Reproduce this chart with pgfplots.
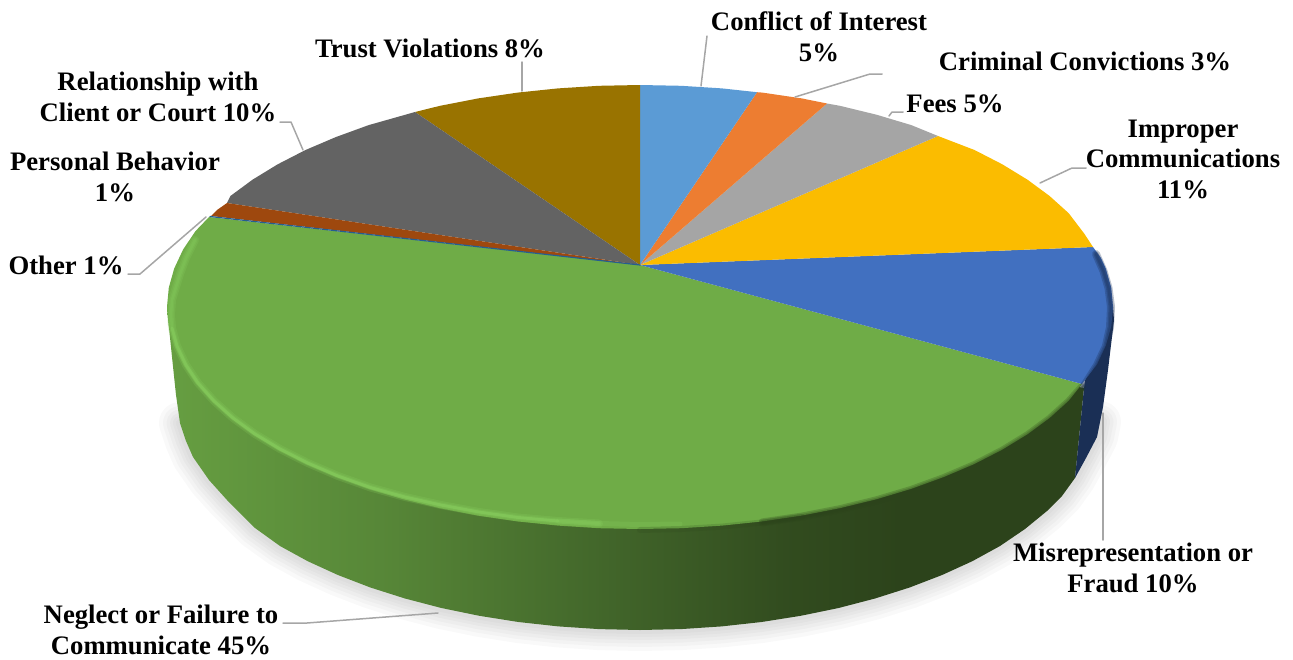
\documentclass[border=0pt]{standalone}
\usepackage{fontspec}
\setmainfont{Liberation Serif}
\usepackage{pgfplots}
\pgfplotsset{compat=1.18}
\usepackage{pgfplotstable}
\definecolor{cConf}{HTML}{5B9BD5}
\definecolor{cCrim}{HTML}{ED7D31}
\definecolor{cFees}{HTML}{A5A5A5}
\definecolor{cImpr}{HTML}{FBBC00}
\definecolor{cMisr}{HTML}{4170C0}
\definecolor{cNegl}{HTML}{6FAC47}
\definecolor{cOthr}{HTML}{255E91}
\definecolor{cPers}{HTML}{9E480E}
\definecolor{cRela}{HTML}{636363}
\definecolor{cTrus}{HTML}{997300}
\definecolor{cNavy}{HTML}{1A2F55}
\definecolor{cDark}{HTML}{2C431B}
\definecolor{cHigh}{HTML}{8AD060}
\definecolor{cLead}{HTML}{A6A6A6}
\pgfdeclarehorizontalshading{greenside}{100bp}{
  color(0bp)=(cNegl!90!white);
  color(25bp)=(cNegl!92!black);
  color(37bp)=(cNegl!78!black);
  color(51bp)=(cNegl!56!black);
  color(59bp)=(cDark!92!cNegl);
  color(65bp)=(cDark);
  color(100bp)=(cDark)}
\pgfplotstableread{
x y
180 423
186 441
193 457
209 480
227 500
255 528
280 546
307.7 561.2
337.9 575
370.4 587.5
405 598.5
441.4 608
479.3 615.8
518.4 622
558.4 626.4
599 629.1
640 630
681 629.1
721.6 626.4
761.6 622
800.7 615.8
838.6 608
875 598.5
909.6 587.5
942.1 575
972.3 561.2
1000 546
1025 529
1047 511
1062 496
1075 478
1086 458
1097 437
1100 422
}\outline
\pgfplotstableread{
x y
195 240
186 258
180 274
172 300
171 315
172 328
177 346
186 365
198 383
214 401
233 418
255 434
280 449
307.8 463
338 476
370.5 487.5
405 497
441 505
479 512
518 517.5
558 521
599 523.5
}\highrim
\pgfplotstableread{
x y
172 328
177 346
186 365
198 383
214 401
233 418
255 434
280 449
307.8 463
338 476
370.5 487.5
405 497
441 505
479 512
518 517.5
558 521
}\highcore
\pgfplotstableread{
x y
558 521
599 523.5
640 524.5
680 524
}\highfade
\pgfplotstableread{
x y
640 530
681.2 529
722.1 526.6
762.4 522.4
801.8 516.6
}\darkfade
\pgfplotstableread{
x y
762.4 522.4
801.8 516.6
839.9 509.2
876.5 500.3
911.3 489.9
944 478
974.5 465
1002.3 450.7
1027.5 435.3
1049.6 419
1068.7 401.8
1082 387
}\darkrim
\pgfplotstableread{
x y
1084 386
1096.9 365.5
1105.8 346.5
1110 327.4
1111 307
1108.5 288
1103.5 271
1096 254
}\navyrim
\begin{document}
\begin{tikzpicture}
\begin{axis}[
  scale only axis, width=1293pt, height=659pt,
  xmin=0, xmax=1293, ymin=0, ymax=659, y dir=reverse,
  hide axis, clip=false,
  every axis plot/.append style={line join=round, line cap=round},
  ]
% page extent
\addplot[no markers, draw=none, forget plot] coordinates {(0,0)(1293,0)(1293,659)(0,659)(0,0)};
% shadow
\pgfplotsinvokeforeach{42,34,27,20,14,8}{
  \addplot[no markers, draw=black, opacity=0.024, line width=#1pt] table {\outline};
}
% side of green slice
\addplot[no markers, draw=none, shading=greenside] coordinates {
(167,307)(168,318)(172,357)(176,395)(180,423)(186,441)(193,457)(209,480)(227,500)(255,528)(280,546)(307.7,561.2)(337.9,575)(370.4,587.5)(405,598.5)(441.4,608)(479.3,615.8)(518.4,622)(558.4,626.4)(599,629.1)(640,630)(681,629.1)(721.6,626.4)(761.6,622)(800.7,615.8)(838.6,608)(875,598.5)(909.6,587.5)(942.1,575)(972.3,561.2)(1000,546)(1025,529)(1047,511)(1062,496)(1075,478)(1084,388)(640,300)};
% side of blue slice
\addplot[no markers, draw=none, fill=cNavy] coordinates {
(1084,388)(1075,478)(1086,458)(1097,437)(1103,407)(1108,370)(1114,320)(1113,307)(1090,350)};
% top faces
\addplot[no markers, draw=none, fill=cNegl] coordinates {
(640,265)(1082,384)(1068.7,400.8)(1049.6,418)(1027.5,434.3)(1002.3,449.7)(974.5,464)(944,477)(911.3,488.9)(876.5,499.3)(839.9,508.2)(801.8,515.6)(762.4,521.4)(722.1,525.6)(681.2,528.2)(640,529)(598.8,528.2)(557.9,525.6)(517.6,521.4)(478.2,515.6)(440.1,508.2)(403.5,499.3)(368.7,488.9)(336,477)(305.5,464)(277.7,449.7)(252.5,434.3)(230.4,418)(211.3,400.8)(195.5,382.9)(183.1,364.5)(174.2,345.6)(168.8,326.3)(167,307)(168.8,287.6)(174.2,268.5)(183.1,249.5)(195.5,231.1)(209,217)};
\addplot[no markers, draw=none, fill=cMisr] coordinates {
(640,265)(1093,247)(1101,258)(1105.8,268.5)(1111.2,287.6)(1113,307)(1111.2,326.4)(1105.8,345.5)(1096.9,364.5)(1082,384)};
\addplot[no markers, draw=none, fill=cImpr] coordinates {
(640,265)(938,136)(974.5,150)(1002.3,164.3)(1027.5,179.7)(1049.6,196)(1068.7,213.2)(1084.5,234)(1093,247)};
\addplot[no markers, draw=none, fill=cFees] coordinates {
(640,265)(827,103.5)(839.9,105.8)(876.5,114.7)(911.3,125.1)(938,136)};
\addplot[no markers, draw=none, fill=cCrim] coordinates {
(640,265)(757,92.2)(762.4,92.6)(801.8,98.4)(827,103.5)};
\addplot[no markers, draw=none, fill=cConf] coordinates {
(640,265)(640,85)(681.2,85.8)(722.1,88.4)(757,92.2)};
\addplot[no markers, draw=none, fill=cTrus] coordinates {
(640,265)(415,112)(440.1,105.8)(478.2,98.4)(517.6,92.6)(557.9,88.4)(598.8,85.8)(640,85)};
\addplot[no markers, draw=none, fill=cRela] coordinates {
(640,265)(227,203)(230.4,196)(252.5,179.7)(277.7,164.3)(305.5,150)(336,137)(368.7,125.1)(415,112)};
\addplot[no markers, draw=none, fill=cPers] coordinates {
(640,265)(211,216)(217,210)(227,203)};
\addplot[no markers, draw=cOthr, line width=1.2pt] coordinates {(640,265)(210,216.5)};
% bevel
\addplot[no markers, draw=cHigh, opacity=0.2, line width=5pt] table {\highfade};
\addplot[no markers, draw=cDark, opacity=0.18, line width=6pt] table {\darkfade};
\pgfplotsinvokeforeach{8,5,2.5}{
  \addplot[no markers, draw=cHigh, opacity=0.22, line width=#1pt] table {\highrim};
  \addplot[no markers, draw=cDark, opacity=0.25, line width=#1pt] table {\darkrim};
  \addplot[no markers, draw=cNavy, opacity=0.3, line width=#1pt] table {\navyrim};
}
\addplot[no markers, draw=cHigh, opacity=0.4, line width=3pt] table {\highcore};
% leaders
\addplot[no markers, draw=cLead, line width=1.5pt] coordinates {(701,86)(707,36)};
\addplot[no markers, draw=cLead, line width=1.5pt] coordinates {(795,97)(870,74)(882,74)};
\addplot[no markers, draw=cLead, line width=1.5pt] coordinates {(889,116)(892,112)(903,112)};
\addplot[no markers, draw=cLead, line width=1.5pt] coordinates {(1040,183)(1072,168)(1086,168)};
\addplot[no markers, draw=cLead, line width=1.5pt] coordinates {(1103,413)(1103,540)};
\addplot[no markers, draw=cLead, line width=1.5pt] coordinates {(438,613)(307,623)(283,623)};
\addplot[no markers, draw=cLead, line width=1.5pt] coordinates {(206,217)(140,274)(128,274)};
\addplot[no markers, draw=cLead, line width=1.5pt] coordinates {(303,150)(291,122)(280,122)};
\addplot[no markers, draw=cLead, line width=1.5pt] coordinates {(522,91)(522,62)};
% labels
\tikzset{lab/.style={align=center, inner sep=0pt, font=\fontsize{26.7}{30.5}\selectfont\bfseries}}
\node[lab] at (axis cs:819,37) {Conflict of Interest\\5\%};
\node[lab] at (axis cs:1085,61) {Criminal Convictions 3\%};
\node[lab] at (axis cs:955,104) {Fees 5\%};
\node[lab] at (axis cs:1183,159) {Improper\\Communications\\11\%};
\node[lab] at (axis cs:1133,568) {Misrepresentation or\\Fraud 10\%};
\node[lab] at (axis cs:161,630) {Neglect or Failure to\\Communicate 45\%};
\node[lab] at (axis cs:66,265) {Other 1\%};
\node[lab] at (axis cs:115,177) {Personal Behavior\\1\%};
\node[lab] at (axis cs:158,97) {Relationship with\\Client or Court 10\%};
\node[lab] at (axis cs:430,48) {Trust Violations 8\%};
\end{axis}
\end{tikzpicture}
\end{document}
